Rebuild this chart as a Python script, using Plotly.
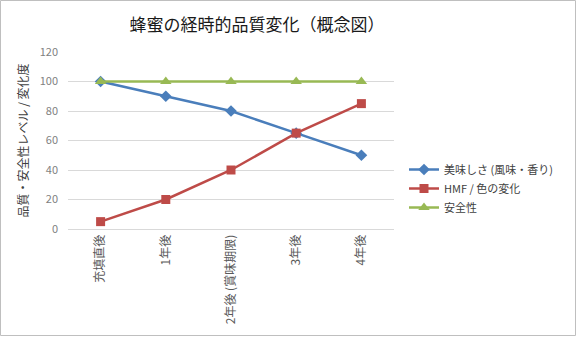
import plotly.graph_objects as go

categories = ["充填直後", "1年後", "2年後 (賞味期限)", "3年後", "4年後"]
taste = [100, 90, 80, 65, 50]
hmf = [5, 20, 40, 65, 85]
safety = [100, 100, 100, 100, 100]

W, H = 577, 337
L, R, T, B = 68, 183, 52, 108
pw, ph = W - L - R, H - T - B

font = "Noto Sans CJK JP"
fig = go.Figure()
fig.add_trace(go.Scatter(x=categories, y=taste, name="美味しさ (風味・香り)", mode="lines+markers",
                         line=dict(color="#4A7EBB", width=2.5),
                         marker=dict(symbol="diamond", size=9, color="#4A7EBB")))
fig.add_trace(go.Scatter(x=categories, y=hmf, name="HMF / 色の変化", mode="lines+markers",
                         line=dict(color="#BE4B48", width=2.5),
                         marker=dict(symbol="square", size=9, color="#BE4B48")))
fig.add_trace(go.Scatter(x=categories, y=safety, name="安全性", mode="lines+markers",
                         line=dict(color="#98B954", width=2.5),
                         marker=dict(symbol="triangle-up", size=10, color="#98B954")))

fig.update_layout(
    width=W, height=H,
    margin=dict(l=L, r=R, t=T, b=B),
    paper_bgcolor="white", plot_bgcolor="white",
    font=dict(family=font, color="#595959", size=11),
    title=dict(text="蜂蜜の経時的品質変化（概念図）", x=(257) / W, xanchor="center",
               y=1 - 25 / H, yanchor="middle",
               font=dict(size=17, color="#1A1A1A", family=font)),
    xaxis=dict(tickangle=-90, showgrid=False, showline=True, linecolor="#D9D9D9", linewidth=1,
               ticks="", tickfont=dict(size=12, color="#595959"), range=[-0.5, 4.5]),
    yaxis=dict(range=[0, 120], dtick=20, showgrid=True, gridcolor="#D9D9D9", gridwidth=1,
               zeroline=False, ticks="", tickfont=dict(size=11, color="#7F7F7F"),
               ticklabelstandoff=9,
               title=dict(text="品質・安全性レベル / 変化度", font=dict(size=12, color="#404040"),
                          standoff=8)),
    legend=dict(x=(404 - L) / pw, y=(H - B - 155) / ph, xanchor="left", yanchor="top",
                font=dict(size=11, color="#404040"), bgcolor="rgba(0,0,0,0)",
                itemwidth=30, tracegroupgap=0),
    showlegend=True,
)
fig.add_shape(type="rect", xref="paper", yref="paper",
              x0=(-L + 0.5) / pw, x1=(W - L - 1.5) / pw,
              y0=(-B + 1.5) / ph, y1=(H - B - 0.5) / ph,
              line=dict(color="#BFBFBF", width=1), fillcolor="rgba(0,0,0,0)", layer="below")
fig.write_html("out.html")
